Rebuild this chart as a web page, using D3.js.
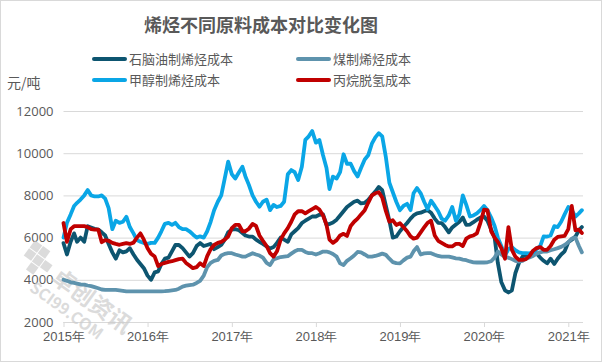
<!DOCTYPE html>
<html>
<head>
<meta charset="utf-8">
<script src="https://cdn.jsdelivr.net/npm/d3@7"></script>
<style>
  body { margin: 0; background: #fff; }
  svg { display: block; font-family: "Noto Sans CJK SC", "Noto Sans", sans-serif; }
</style>
</head>
<body>
<div id="chart"></div>
<script>
// semi-monthly sample dates
var dates = [
  "2015-01-01","2015-01-16","2015-02-01","2015-02-16","2015-03-01","2015-03-16","2015-04-01","2015-04-16","2015-05-01","2015-05-16","2015-06-01","2015-06-16",
  "2015-07-01","2015-07-16","2015-08-01","2015-08-16","2015-09-01","2015-09-16","2015-10-01","2015-10-16","2015-11-01","2015-11-16","2015-12-01","2015-12-16",
  "2016-01-01","2016-01-16","2016-02-01","2016-02-16","2016-03-01","2016-03-16","2016-04-01","2016-04-16","2016-05-01","2016-05-16","2016-06-01","2016-06-16",
  "2016-07-01","2016-07-16","2016-08-01","2016-08-16","2016-09-01","2016-09-16","2016-10-01","2016-10-16","2016-11-01","2016-11-16","2016-12-01","2016-12-16",
  "2017-01-01","2017-01-16","2017-02-01","2017-02-16","2017-03-01","2017-03-16","2017-04-01","2017-04-16","2017-05-01","2017-05-16","2017-06-01","2017-06-16",
  "2017-07-01","2017-07-16","2017-08-01","2017-08-16","2017-09-01","2017-09-16","2017-10-01","2017-10-16","2017-11-01","2017-11-16","2017-12-01","2017-12-16",
  "2018-01-01","2018-01-16","2018-02-01","2018-02-16","2018-03-01","2018-03-16","2018-04-01","2018-04-16","2018-05-01","2018-05-16","2018-06-01","2018-06-16",
  "2018-07-01","2018-07-16","2018-08-01","2018-08-16","2018-09-01","2018-09-16","2018-10-01","2018-10-16","2018-11-01","2018-11-16","2018-12-01","2018-12-16",
  "2019-01-01","2019-01-16","2019-02-01","2019-02-16","2019-03-01","2019-03-16","2019-04-01","2019-04-16","2019-05-01","2019-05-16","2019-06-01","2019-06-16",
  "2019-07-01","2019-07-16","2019-08-01","2019-08-16","2019-09-01","2019-09-16","2019-10-01","2019-10-16","2019-11-01","2019-11-16","2019-12-01","2019-12-16",
  "2020-01-01","2020-01-16","2020-02-01","2020-02-16","2020-03-01","2020-03-16","2020-04-01","2020-04-16","2020-05-01","2020-05-16","2020-06-01","2020-06-16",
  "2020-07-01","2020-07-16","2020-08-01","2020-08-16","2020-09-01","2020-09-16","2020-10-01","2020-10-16","2020-11-01","2020-11-16","2020-12-01","2020-12-16",
  "2021-01-01","2021-01-16","2021-02-01","2021-02-16","2021-03-01"
];

// 石脑油制烯烃成本
var naphtha = [
  5740,5200,5800,6200,5800,6000,5800,6540,6480,6420,6380,6250,
  6100,5700,5300,5000,5400,5300,5350,5500,5200,4950,4750,4550,
  4200,4000,4350,4400,4750,5000,5050,5350,5650,5650,5500,5300,
  5100,5260,5600,5740,5600,5650,5700,5450,5550,5650,5900,6250,
  6380,6400,6350,6220,6100,6050,6050,5900,5800,5700,5580,5480,
  5550,5750,6000,5900,5800,6150,6300,6450,6690,6800,6900,7000,
  7000,7080,7100,6600,6650,6720,6850,7050,7250,7450,7580,7700,
  7750,7620,7650,7780,8000,8180,8400,8250,7500,6800,6000,6050,
  6300,6500,6690,6900,7050,7150,7180,7250,7300,7180,6900,6700,
  6690,6500,6250,6480,6620,6750,6950,6600,6620,6730,6850,6950,
  7000,6800,6380,6000,4800,3900,3500,3400,3500,4310,4800,5100,
  5100,5200,5260,5260,5050,4900,4780,5000,4750,5000,5200,5350,
  5780,5900,6050,6350,6500
];

// 煤制烯烃成本
var coal = [
  4000,3950,3880,3850,3820,3780,3770,3730,3700,3650,3600,3540,
  3520,3520,3520,3520,3500,3480,3450,3450,3450,3450,3450,3450,
  3450,3450,3450,3450,3450,3460,3480,3500,3520,3580,3680,3720,
  3750,3770,3850,3950,4200,4600,4800,4900,4940,5150,5230,5260,
  5260,5200,5150,5100,5100,5180,5260,5200,5150,5050,4800,4700,
  4960,5020,5080,5100,5120,5240,5350,5420,5420,5320,5260,5260,
  5200,5260,5340,5340,5300,5220,5100,4780,4700,4900,5020,5150,
  5320,5300,5200,5100,5100,5130,5180,5240,5180,5000,4840,4790,
  4780,4920,5050,5100,5350,5550,5200,5250,5260,5260,5190,5130,
  5100,5100,5100,5060,5020,5000,4960,4930,4870,4830,4820,4820,
  4820,4830,4880,5050,5340,5200,5080,5050,4980,4900,4860,4900,
  5000,5060,5130,5240,5300,5340,5340,5400,5450,5500,5560,5650,
  5780,5950,6000,5600,5300
];

// 甲醇制烯烃成本
var methanol = [
  6000,6700,7100,7500,7650,7800,8000,8250,8000,7950,7950,8000,
  7850,7400,6400,6800,6700,6750,6990,6500,6200,5880,5800,5740,
  5700,5750,5750,6000,6300,6650,6700,6600,6700,6500,6400,6400,
  6300,6150,6000,6060,6000,6300,6750,7300,7700,8000,8800,9600,
  9000,8800,9100,9360,8900,8500,8000,7700,7460,7700,7800,7300,
  7550,7450,7500,7700,9000,9200,9100,8730,9360,10630,10800,11050,
  10500,10630,9900,9300,8300,8890,8800,9100,9950,9500,9500,9150,
  8900,9300,9700,9900,10450,10750,10950,10800,9800,8600,8150,7700,
  7300,7500,7600,7300,8100,8350,8100,7700,7350,7750,7500,7250,
  6900,6800,7050,7450,6800,7100,8000,7550,7000,7050,7150,7300,
  7500,7300,6950,6550,6000,5600,5150,5450,5550,5400,5300,5260,
  5260,5250,5300,5450,5600,6060,6050,6100,6540,6500,6750,7100,
  7450,7300,7000,7150,7300
];

// 丙烷脱氢成本
var pdh = [
  6690,5800,6400,6540,6540,6540,6540,6500,6400,6380,6380,5780,
  5880,5850,5750,5700,5660,5700,5740,5700,5760,6000,6200,5900,
  5500,5230,5100,4650,4750,4800,4850,4880,4930,4980,5000,4800,
  4680,4550,4600,4780,4650,5120,5450,5650,5750,5800,5900,6050,
  6450,6600,6600,6300,6300,6420,6650,6550,6100,5850,5600,5260,
  5100,5350,5900,6200,6450,6750,7100,7250,7250,7150,7250,7350,
  7450,7330,7050,6600,5900,5750,5880,6100,6180,6080,6550,6750,
  6900,7100,7300,7650,8000,8100,8150,7900,7250,6750,6820,6600,
  6680,6500,6300,6060,5950,6000,6250,6480,6700,6800,6100,5850,
  5750,5650,5580,5580,5700,5700,5600,5950,6060,6100,6200,6690,
  7320,7300,6300,6000,5800,5500,5000,6500,5420,5100,4940,4940,
  4980,5120,5380,5500,5550,5420,5420,5600,5900,6030,6060,6080,
  6400,7500,6350,6380,6220
];

var seriesNames = ["石脑油制烯烃成本", "煤制烯烃成本", "甲醇制烯烃成本", "丙烷脱氢成本"];
var seriesColors = ["#0d5570", "#5e93ad", "#0aa6e6", "#c00000"];
var yTicks = [2000, 4000, 6000, 8000, 10000, 12000];
var yearTicks = ["2015", "2016", "2017", "2018", "2019", "2020", "2021"];

var width = 602, height = 362;
var textColor = "#595959";
var parseDate = d3.timeParse("%Y-%m-%d");

var svg = d3.select("#chart").append("svg")
  .attr("width", width)
  .attr("height", height);

// outer border
svg.append("rect")
  .attr("x", 0.5).attr("y", 0.5)
  .attr("width", width - 1).attr("height", height - 1)
  .attr("fill", "#fff")
  .attr("stroke", "#d9d9d9");

// scales
var xScale = d3.scaleTime()
  .domain([new Date(2015, 0, 1), new Date(2021, 0, 1)])
  .range([63.5, 568.3]);
var yScale = d3.scaleLinear()
  .domain([2000, 12000])
  .range([322, 111]);
var plotRight = 583;

// title
svg.append("text")
  .attr("x", 261).attr("y", 32)
  .attr("text-anchor", "middle")
  .attr("font-size", 18)
  .attr("font-weight", "bold")
  .attr("fill", textColor)
  .text("烯烃不同原料成本对比变化图");

// unit label
svg.append("text")
  .attr("x", 7).attr("y", 88)
  .attr("font-size", 14)
  .attr("fill", textColor)
  .text("元/吨");

// legend
var legendPos = [[94, 59], [298, 59], [94, 80], [298, 80]];
seriesNames.forEach(function(name, i) {
  var p = legendPos[i];
  svg.append("line")
    .attr("x1", p[0]).attr("x2", p[0] + 31)
    .attr("y1", p[1]).attr("y2", p[1])
    .attr("stroke", seriesColors[i])
    .attr("stroke-width", 4)
    .attr("stroke-linecap", "round");
  svg.append("text")
    .attr("x", p[0] + 35).attr("y", p[1] + 5)
    .attr("font-size", 13)
    .attr("fill", textColor)
    .text(name);
});

// gridlines + y labels
var yAxis = d3.axisLeft(yScale)
  .tickValues(yTicks)
  .tickSize(-(plotRight - 63.5))
  .tickPadding(10)
  .tickFormat(d3.format("d"));
var gy = svg.append("g")
  .attr("transform", "translate(63.5,0)")
  .call(yAxis);
gy.select(".domain").remove();
gy.selectAll(".tick line").attr("stroke", "#d9d9d9");
gy.selectAll(".tick text")
  .attr("font-size", 13)
  .attr("fill", textColor)
  .attr("font-family", "'Open Sans', 'Noto Sans', sans-serif");

// x axis
var xAxis = d3.axisBottom(xScale)
  .tickValues(yearTicks.map(function(y) { return new Date(+y, 0, 1); }))
  .tickSize(5)
  .tickPadding(5)
  .tickFormat(function(d) { return d.getFullYear() + "年"; });
var gx = svg.append("g")
  .attr("transform", "translate(0," + yScale(2000) + ")")
  .call(xAxis);
gx.select(".domain")
  .attr("d", "M63.5,0.5H" + plotRight)
  .attr("stroke", "#d9d9d9");
gx.selectAll(".tick line").attr("stroke", "#d9d9d9");
gx.selectAll(".tick text")
  .attr("font-size", 13)
  .attr("fill", textColor);

// watermark
var wm = svg.append("g")
  .attr("transform", "translate(22,258) rotate(36)")
  .attr("fill", "#cccccc")
  .attr("opacity", 0.7);
[[0, 0], [10, 0], [0, 10], [10, 10], [20, 10], [10, 20]].forEach(function(c) {
  wm.append("rect").attr("x", c[0]).attr("y", c[1] - 22).attr("width", 9).attr("height", 9);
});
wm.append("text").attr("x", 36).attr("y", 2).attr("font-size", 23).attr("font-weight", "bold").text("卓创资讯");
wm.append("text").attr("x", 24).attr("y", 22).attr("font-size", 16).attr("font-weight", "bold").text("SCI99.COM");

// series lines
var allSeries = [naphtha, coal, methanol, pdh];
var line = d3.line()
  .x(function(d) { return xScale(d[0]); })
  .y(function(d) { return yScale(d[1]); });

allSeries.forEach(function(values, i) {
  var data = values.map(function(v, j) { return [parseDate(dates[j]), v]; });
  svg.append("path")
    .datum(data)
    .attr("d", line)
    .attr("fill", "none")
    .attr("stroke", seriesColors[i])
    .attr("stroke-width", 3.8)
    .attr("stroke-linejoin", "round")
    .attr("stroke-linecap", "round");
});
</script>
</body>
</html>
